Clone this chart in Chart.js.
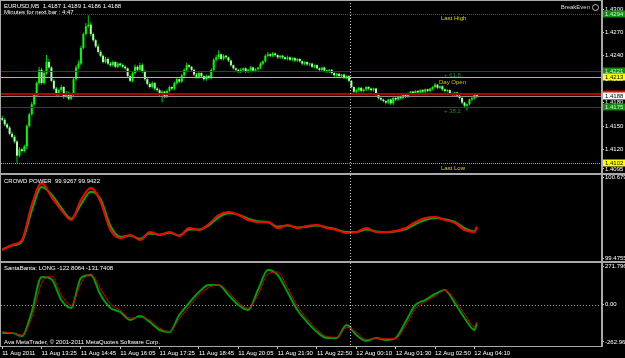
<!DOCTYPE html>
<html>
<head>
<meta charset="utf-8">
<script src="https://cdn.jsdelivr.net/npm/chart.js@4.4.0/dist/chart.umd.min.js"></script>
<style>
  html, body { margin: 0; padding: 0; background: #000; }
  #wrap { position: relative; width: 625px; height: 358px; background: #000; overflow: hidden;
          font-family: 'Liberation Sans', Arial, sans-serif; }
  canvas { position: absolute; left: 0; }
  .txt { position: absolute; font-size: 6px; line-height: 7px; white-space: pre; color: #fff; }
  .ln { position: absolute; background: #a8a8a8; }
</style>
</head>
<body>
<div id="wrap">
  <canvas id="pricePane" width="625" height="173" style="top:0"></canvas>
  <canvas id="crowdPane" width="625" height="86" style="top:175px"></canvas>
  <canvas id="santaPane" width="625" height="95" style="top:263px"></canvas>

  <!-- frame lines -->
  <div class="ln" style="left:0;top:0;width:603px;height:1px"></div>
  <div class="ln" style="left:0;top:0;width:1px;height:347px"></div>
  <div class="ln" style="left:601px;top:0;width:2px;height:347px"></div>
  <div class="ln" style="left:0;top:173px;width:625px;height:2px"></div>
  <div class="ln" style="left:0;top:261px;width:625px;height:2px"></div>
  <div class="ln" style="left:0;top:346px;width:603px;height:1px"></div>

  <!-- window texts -->
  <div class="txt" style="left:4px;top:2.5px">EURUSD,M5  1.4187 1.4189 1.4186 1.4188</div>
  <div class="txt" style="left:4px;top:8.5px">Minutes for next bar : 4:47</div>
  <div class="txt" style="right:35px;top:3.5px;color:#ddd">BreakEven</div>
  <div style="position:absolute;left:592px;top:4px;width:5px;height:5px;border:1px solid #bbb;border-radius:50%"></div>
  <div class="txt" style="left:441px;top:15px;color:#d8d800">Last High</div>
  <div class="txt" style="left:444px;top:71.5px;color:#1a8c1a">+ 61.8</div>
  <div class="txt" style="left:439px;top:78.5px;color:#c8c800">Day Open</div>
  <div class="txt" style="left:444px;top:107.5px;color:#1a8c1a">+ 38.2</div>
  <div class="txt" style="left:441px;top:165px;color:#d8d800">Last Low</div>
  <div class="txt" style="left:4px;top:177.5px">CROWD POWER  99.9267 99.9422</div>
  <div class="txt" style="left:4px;top:264.5px">SantaBanta: LONG -122.8064 -131.7408</div>
  <div class="txt" style="left:4px;top:339px">Ava MetaTrader, © 2001-2011 MetaQuotes Software Corp.</div>
</div>

<script>
// EURUSD M5 bars, prices in pips above 1.4000 (one entry per bar, bar 0 = 11 Aug ~12:05)
const opens = [160,158,152,148,140,136,130,112,120,118, 124,150,165,178,190,205,222,205,218,232,
  225,208,198,190,196,200,188,192,185,190, 210,225,230,250,268,278,280,268,260,252,
  245,240,232,236,230,228,232,226,230,228, 226,224,214,208,218,226,222,228,220,210,
  204,200,205,198,196,190,194,188,195,200, 198,205,210,207,215,222,228,226,222,216,
  213,218,214,210,214,212,222,235,238,242, 236,240,238,234,228,224,222,220,222,224,
  220,222,225,221,223,225,230,233,240,242, 240,243,241,238,240,238,236,238,235,237,
  234,236,233,230,232,229,230,226,228,224, 222,225,221,220,222,218,215,217,214,216,
  212,214,208,200,194,196,199,195,197,200, 198,196,198,190,186,184,182,180,184,179,
  186,184,188,186,190,188,192,194,191,195, 193,196,194,197,195,198,200,203,199,201,
  197,195,196,192,190,193,189,186,180,176, 178,184,186,190];
const closes = [158,152,148,140,136,130,112,120,118,124, 150,165,178,190,205,222,205,218,232,225,
  208,198,190,196,200,188,192,185,190,210, 225,230,250,268,278,280,268,260,252,245,
  240,232,236,230,228,232,226,230,228,226, 224,214,208,218,226,222,228,220,210,204,
  200,205,198,196,190,194,188,195,200,198, 205,210,207,215,222,228,226,222,216,213,
  218,214,210,214,212,222,235,238,242,236, 240,238,234,228,224,222,220,222,224,220,
  222,225,221,223,225,230,233,240,242,240, 243,241,238,240,238,236,238,235,237,234,
  236,233,230,232,229,230,226,228,224,222, 225,221,220,222,218,215,217,214,216,212,
  214,208,200,194,196,199,195,197,200,198, 196,198,190,186,184,182,180,184,179,186,
  184,188,186,190,188,192,194,191,195,193, 196,194,197,195,198,200,203,199,201,197,
  195,196,192,190,193,189,186,180,176,178, 184,186,190,188];
const highs = [163,160,154,150,143,138,132,123,122,126, 152,167,181,192,207,226,224,221,241,236,
  227,210,200,198,203,201,195,194,192,212, 228,234,253,270,282,292,283,270,262,255,
  247,242,239,238,232,234,233,232,231,230, 228,225,216,220,229,228,231,230,222,212,
  206,207,206,200,198,196,195,197,202,201, 207,212,211,217,224,231,229,227,223,218,
  220,219,215,216,215,224,237,241,247,243, 242,241,239,235,229,225,223,224,225,225,
  223,227,226,224,226,232,234,242,245,243, 245,244,242,241,241,239,240,239,238,238,
  237,237,234,233,233,231,231,229,229,225, 226,226,222,223,223,219,218,218,217,217,
  215,215,209,201,198,200,200,198,201,201, 199,199,199,191,187,185,183,185,185,187,
  187,189,189,191,191,193,195,195,196,196, 197,197,198,198,199,201,205,204,202,202,
  198,197,197,193,194,194,190,187,181,179, 185,187,192,191];
const lows = [156,150,146,138,134,128,103,110,116,116, 120,148,163,176,188,203,203,203,216,223,
  206,196,188,188,194,185,186,183,183,188, 208,223,228,248,266,276,265,258,250,243,
  238,230,230,228,226,226,224,224,226,224, 222,212,206,206,216,220,220,218,208,202,
  198,198,196,194,188,180,186,186,193,196, 196,203,205,205,213,220,224,220,214,211,
  211,212,208,208,210,210,220,233,236,234, 234,236,232,226,222,220,218,218,220,218,
  218,220,219,219,221,223,228,231,238,238, 238,239,236,236,236,234,234,233,233,232,
  232,231,228,228,227,227,224,224,222,220, 220,219,218,218,216,213,213,212,212,210,
  210,206,198,192,192,194,193,193,195,196, 194,194,188,184,182,180,178,178,177,177,
  182,182,184,184,186,186,190,189,189,191, 191,192,192,193,193,196,198,197,197,195,
  193,193,190,188,188,187,184,178,174,170, 176,182,184,186];

// indicator readings, taken every 4th bar
const indBars = [0,4,8,12,16,20,24,28,32,36,40,44,48,52,56,60,64,68,72,76,80,84,88,92,96,
  100,104,108,112,116,120,124,128,132,136,140,144,148,152,156,160,164,168,172,176,180,184,188,192,193];
const crowdRed = [99.594,99.669,99.743,100.263,100.590,100.382,100.189,100.040,100.337,100.516,
  100.308,99.892,99.773,99.817,99.743,99.862,99.817,99.862,99.802,99.921,
  99.892,99.981,100.114,100.159,100.114,100.040,100.010,100.010,99.921,99.966,
  99.921,99.951,99.966,99.921,99.892,99.847,99.862,99.921,99.862,99.862,
  99.877,99.921,100.010,100.070,100.085,100.040,99.996,99.892,99.862,99.942];
const crowdGreen = [99.60,99.66,99.72,100.18,100.53,100.42,100.22,100.06,100.27,100.46,
  100.35,99.95,99.79,99.81,99.76,99.84,99.82,99.85,99.81,99.90,
  99.90,99.96,100.08,100.14,100.12,100.06,100.02,100.01,99.94,99.96,
  99.93,99.94,99.96,99.93,99.90,99.86,99.86,99.90,99.87,99.86,
  99.87,99.90,99.98,100.04,100.07,100.05,100.01,99.92,99.87,99.927];
const santaGreen = [-199.8,-199.8,-220.9,-52.1,194.2,180.1,32.4,-23.9,187.2,208.3,
  67.5,-23.9,-52.1,-108.4,-80.2,-122.4,-178.7,-192.8,-73.2,11.3,
  88.7,137.9,137.9,67.5,-2.8,-38.0,102.7,243.4,208.3,88.7,
  -38.0,-122.4,-192.8,-235.0,-235.0,-143.4,-213.8,-255.0,-235.0,-249.0,
  -235.0,-122.4,-2.8,32.4,74.6,102.7,11.3,-94.3,-178.7,-131.7];
const santaRed = [-190,-200,-215,-90,150,200,70,-5,150,215,
  110,5,-40,-95,-90,-110,-165,-190,-100,-15,
  65,120,140,90,15,-25,70,215,230,120,
  -10,-100,-175,-225,-230,-160,-195,-245,-240,-240,
  -238,-150,-30,20,60,100,35,-65,-155,-122.8];

// axes
const timeLabels = ['11 Aug 2011','11 Aug 13:25','11 Aug 14:45','11 Aug 16:05','11 Aug 17:25','11 Aug 18:45',
  '11 Aug 20:05','11 Aug 21:30','11 Aug 22:50','12 Aug 00:10','12 Aug 01:30','12 Aug 02:50','12 Aug 04:10'];
const labelBars = [0,16,32,48,64,80,96,112,128,144,160,176,192];
const priceTicks = [1.4300,1.4270,1.4240,1.4210,1.4180,1.4150,1.4120,1.4095];
const crowdTicks = [99.4755,100.679];
const crowdTickText = ['99.4755','100.679'];
const santaTicks = [-262.963,0,271.7964];
const santaTickText = ['-262.963','0.00','271.7964'];
const daySeparatorBar = 141.6;

// horizontal levels: last high, fibo 61.8, day open, ask, bid, fibo 38.2, last low
const levelPrices = [1.4294,1.4221,1.4213,1.4191,1.4188,1.4175,1.4102];
const levelStyles = [
  {line:'#0b780b', dash:[1,1], width:1, box:'#138813', text:'#c8ffc8'},
  {line:'#0b5c0b', dash:[], width:1, box:'#138813', text:'#c8ffc8'},
  {line:'#c8c800', dash:[], width:1, box:'#ffff00', text:'#000'},
  {line:'#b00000', dash:[], width:2, box:'#ff0000', text:'#000'},
  {line:'#8a8a8a', dash:[], width:1, box:'#ffffff', text:'#000'},
  {line:'#0b5c0b', dash:[], width:1, box:'#138813', text:'#c8ffc8'},
  {line:'#b4b400', dash:[1,1], width:1, box:'#ffff00', text:'#000'}
];

Chart.defaults.font.family = "'Liberation Sans', Arial, sans-serif";
Chart.defaults.font.size = 6;
Chart.defaults.color = '#fff';

const px = p => 1.4 + p / 10000;
const gridStyle = { drawOnChartArea: false, tickLength: 3, color: '#c8c8c8' };

function rightAxisFit(scale) {
    scale.width = 24;
    scale.paddingTop = 0;
    scale.paddingBottom = 0;
}

function hiddenX() {
    return { type: 'linear', min: -0.5, max: 243.5, offset: false, display: false, grid: { offset: false } };
}

// draws the dotted day separator, level lines and price boxes
function paneDecor(cfg) {
    return {
        id: 'paneDecor',
        afterDatasetsDraw(chart) {
            const { ctx, chartArea: a, scales: { x, y } } = chart;
            ctx.save();
            (cfg.levels || []).forEach(l => {
                const py = Math.round(y.getPixelForValue(l.value)) + (l.width === 2 ? 0 : 0.5);
                ctx.strokeStyle = l.line;
                ctx.lineWidth = l.width;
                ctx.setLineDash(l.dash);
                ctx.beginPath();
                ctx.moveTo(a.left, py);
                ctx.lineTo(a.right, py);
                ctx.stroke();
            });
            const sx = Math.round(x.getPixelForValue(daySeparatorBar)) + 0.5;
            ctx.strokeStyle = '#c8c8c8';
            ctx.lineWidth = 1;
            ctx.setLineDash([1, 2]);
            ctx.beginPath();
            ctx.moveTo(sx, 0);
            ctx.lineTo(sx, cfg.sepBottom ? a.bottom : chart.height);
            ctx.stroke();
            ctx.restore();
        },
        afterDraw(chart) {
            if (!cfg.levels) return;
            const { ctx, chartArea: a, scales: { y } } = chart;
            ctx.save();
            ctx.font = "6px 'Liberation Sans', Arial, sans-serif";
            ctx.textBaseline = 'middle';
            cfg.levels.forEach(l => {
                const py = Math.round(y.getPixelForValue(l.value));
                ctx.fillStyle = l.box;
                ctx.fillRect(a.right + 2, py - 3.5, 22, 7);
                ctx.fillStyle = l.text;
                ctx.fillText(l.value.toFixed(4), a.right + 4, py + 0.5);
            });
            ctx.restore();
        }
    };
}

const barIdx = closes.map((_, i) => i);

new Chart(document.getElementById('pricePane'), {
    type: 'bar',
    data: {
        datasets: [{
            data: barIdx.map(i => ({ x: i, y: [px(lows[i]), px(highs[i])] })),
            backgroundColor: '#00d000',
            barThickness: 1,
            grouped: false,
            inflateAmount: 0,
            order: 2
        }, {
            data: barIdx.map(i => ({ x: i, y: [px(opens[i]), px(closes[i])] })),
            backgroundColor: c => closes[c.dataIndex] >= opens[c.dataIndex] ? '#00ff00' : '#b0ffb0',
            barThickness: 2,
            minBarLength: 1,
            grouped: false,
            inflateAmount: 0,
            order: 1
        }]
    },
    options: {
        responsive: false,
        animation: false,
        events: [],
        layout: { padding: { left: 1, top: 2, bottom: 2, right: 0 } },
        plugins: { legend: { display: false }, tooltip: { enabled: false } },
        scales: {
            x: hiddenX(),
            y: {
                position: 'right',
                min: 1.40923,
                max: 1.43090,
                beginAtZero: false,
                afterBuildTicks: s => { s.ticks = priceTicks.map(v => ({ value: v })); },
                afterFit: rightAxisFit,
                ticks: { padding: 1, autoSkip: false, callback: v => v.toFixed(4) },
                grid: gridStyle,
                border: { display: false }
            }
        }
    },
    plugins: [paneDecor({ levels: levelPrices.map((v, i) => Object.assign({ value: v }, levelStyles[i])) })]
});

new Chart(document.getElementById('crowdPane'), {
    type: 'line',
    data: {
        datasets: [{
            data: indBars.map((b, i) => ({ x: b, y: crowdRed[i] })),
            borderColor: '#ff0000',
            borderWidth: 2
        }, {
            data: indBars.map((b, i) => ({ x: b, y: crowdGreen[i] })),
            borderColor: '#00b000',
            borderWidth: 2
        }]
    },
    options: {
        responsive: false,
        animation: false,
        events: [],
        elements: { point: { radius: 0 }, line: { cubicInterpolationMode: 'monotone' } },
        layout: { padding: { left: 1, top: 2, bottom: 3, right: 0 } },
        plugins: { legend: { display: false }, tooltip: { enabled: false } },
        scales: {
            x: hiddenX(),
            y: {
                position: 'right',
                min: 99.4755,
                max: 100.679,
                afterBuildTicks: s => { s.ticks = crowdTicks.map(v => ({ value: v })); },
                afterFit: rightAxisFit,
                ticks: { padding: 1, autoSkip: false, callback: v => crowdTickText[crowdTicks.indexOf(v)] },
                grid: gridStyle,
                border: { display: false }
            }
        }
    },
    plugins: [paneDecor({})]
});

new Chart(document.getElementById('santaPane'), {
    type: 'line',
    data: {
        datasets: [{
            data: indBars.map((b, i) => ({ x: b, y: santaRed[i] })),
            borderColor: '#d00000',
            borderWidth: 1
        }, {
            data: indBars.map((b, i) => ({ x: b, y: santaGreen[i] })),
            borderColor: '#00a000',
            borderWidth: 2
        }]
    },
    options: {
        responsive: false,
        animation: false,
        events: [],
        elements: { point: { radius: 0 }, line: { cubicInterpolationMode: 'monotone' } },
        layout: { padding: { left: 1, top: 3, bottom: 0, right: 0 } },
        plugins: { legend: { display: false }, tooltip: { enabled: false } },
        scales: {
            x: {
                type: 'linear',
                min: -0.5,
                max: 243.5,
                offset: false,
                afterBuildTicks: s => { s.ticks = labelBars.map(v => ({ value: v })); },
                afterFit: s => { s.height = 12; s.paddingLeft = 0; s.paddingRight = 0; },
                ticks: { align: 'start', autoSkip: false, maxRotation: 0, padding: 1,
                         callback: (v, i) => timeLabels[i] },
                grid: gridStyle,
                border: { display: false }
            },
            y: {
                position: 'right',
                min: -291.3,
                max: 271.7964,
                afterBuildTicks: s => { s.ticks = santaTicks.map(v => ({ value: v })); },
                afterFit: rightAxisFit,
                ticks: { padding: 1, autoSkip: false, callback: v => santaTickText[santaTicks.indexOf(v)] },
                grid: gridStyle,
                border: { display: false }
            }
        }
    },
    plugins: [paneDecor({ sepBottom: true }), {
        id: 'zeroLine',
        beforeDatasetsDraw(chart) {
            const { ctx, chartArea: a, scales: { y } } = chart;
            const py = Math.round(y.getPixelForValue(0)) + 0.5;
            ctx.save();
            ctx.strokeStyle = '#9a9a9a';
            ctx.setLineDash([1, 2]);
            ctx.beginPath();
            ctx.moveTo(a.left, py);
            ctx.lineTo(a.right, py);
            ctx.stroke();
            ctx.restore();
        }
    }]
});
</script>
</body>
</html>
